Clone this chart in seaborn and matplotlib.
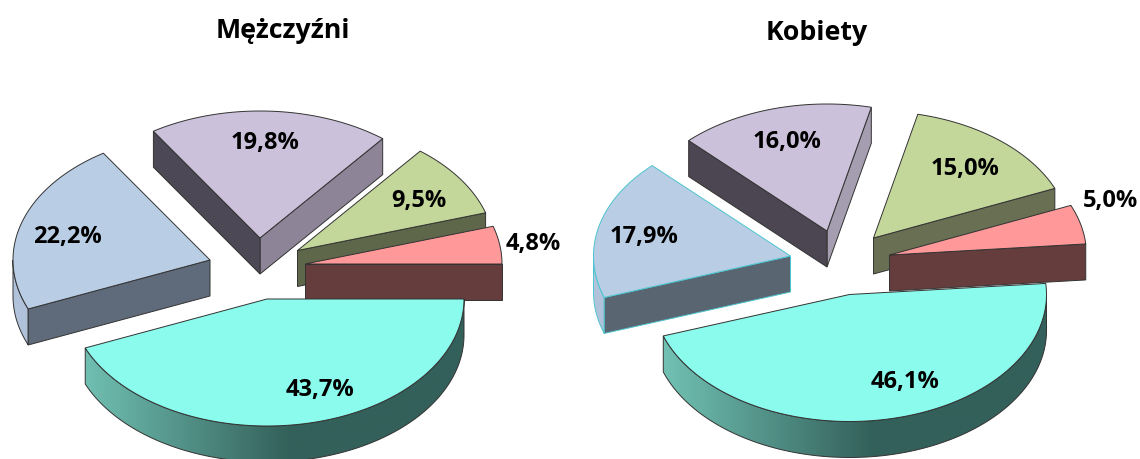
import numpy as np
import matplotlib
matplotlib.use("Agg")
import matplotlib.pyplot as plt
from matplotlib.patches import Polygon
import seaborn as sns

# ---- data ----
slices = ["pink", "green", "purple", "blue", "teal"]
men_values = [4.8, 9.5, 19.8, 22.2, 43.7]
women_values = [5.0, 15.0, 16.0, 17.9, 46.1]
men_title = "Mężczyźni"
women_title = "Kobiety"

# ---- layout (pixels) ----
RX, RY, DEPTH = 197, 127, 36
men_tips = [(305, 264), (297.5, 250.5), (260, 238), (210, 260), (267, 299)]
women_tips = [(889.5, 255), (873.5, 238), (827, 231), (790.5, 256), (849.5, 294.5)]
men_labels = [(533, 244), (419, 201), (265, 143), (67, 237), (320, 390)]
women_labels = [(1110, 201), (965, 169), (787, 142), (644, 237), (905, 382)]
men_start, women_start = 0.0, 5.0
men_title_xy, women_title_xy = (283, 31), (817, 33)

top_colors = ["#FF9999", "#C4D79B", "#CCC1DA", "#B9CDE5", "#8AFBEC"]
EDGE = "#333333"
men_styles = {
    "low": ["#663D3D", "#5E6749", "#8D8497", "#5F6B7A", "#35625A"],
    "high": ["#663D3D", "#5E6749", "#4D4855", "#5F6B7A", "#35625A"],
}
women_styles = {
    "low": ["#663D3D", "#686F52", "#A59DB0", "#5A6572", "#35625A"],
    "high": ["#663D3D", "#686F52", "#4B4651", "#5A6572", "#35625A"],
}
arc_ramps = {
    "blue": ("#B2C4DC", "#8E9FB6"),
    "teal": ("#74C6B8", "#33605A"),
}

sns.set_theme(style="white")
plt.rcParams["font.family"] = ["Open Sans", "DejaVu Sans"]

fig = plt.figure(figsize=(11.4, 4.59), dpi=100)
ax = fig.add_axes([0, 0, 1, 1])
ax.set_xlim(0, 1140)
ax.set_ylim(459, 0)
ax.axis("off")


def rim(tip, deg):
    rad = np.radians(deg)
    return np.column_stack([tip[0] + RX * np.cos(rad), tip[1] - RY * np.sin(rad)])


def radial_face(tip, deg, color, edge, z):
    p = rim(tip, deg)[0]
    pts = [tip, p, (p[0], p[1] + DEPTH), (tip[0], tip[1] + DEPTH)]
    ax.add_patch(Polygon(pts, closed=True, fc=color, ec=edge, lw=0.7, zorder=z))


def arc_face(tip, a, b, ramp, edge, z):
    lo, hi = max(a, 180), min(b, 360)
    if hi <= lo:
        return
    cmap = sns.blend_palette(ramp, as_cmap=True)
    degs = np.linspace(lo, hi, 200)
    pts = rim(tip, degs)
    band = np.vstack([pts, pts[::-1] + (0, DEPTH)])
    x0, x1 = pts[:, 0].min(), pts[:, 0].max()
    left = tip[0] - RX
    xs = np.linspace(x0, x1, 256)
    shade = np.clip((xs - left) / (RX * 1.12), 0, 1)[None, :]
    top, bottom = pts[:, 1].min(), (pts[:, 1] + DEPTH).max()
    img = ax.imshow(shade, cmap=cmap, vmin=0, vmax=1, aspect="auto",
                    extent=(x0, x1, bottom, top), zorder=z, interpolation="bilinear")
    clip = Polygon(band, closed=True, transform=ax.transData)
    img.set_clip_path(clip)
    ax.add_patch(Polygon(band, closed=True, fc="none", ec=edge, lw=0.7, zorder=z))


def draw_pie(values, tips, start, styles, cyan_blue=False):
    sweeps = np.asarray(values) / np.sum(values) * 360
    starts = start + np.concatenate([[0], np.cumsum(sweeps)[:-1]])
    order = [2, 3, 1, 0, 4]
    for z, i in enumerate(order):
        z = 2 + z
        a, b = starts[i], starts[i] + sweeps[i]
        edge = "#4CC5CF" if (cyan_blue and slices[i] == "blue") else EDGE
        if slices[i] in arc_ramps:
            arc_face(tips[i], a, b, arc_ramps[slices[i]], edge, z)
        if np.cos(np.radians(a)) > 0:
            radial_face(tips[i], a, styles["low"][i], edge, z)
        if np.cos(np.radians(b)) < 0:
            radial_face(tips[i], b, styles["high"][i], edge, z)
        outline = rim(tips[i], np.linspace(a, b, 120))
        pts = np.vstack([[tips[i]], outline])
        ax.add_patch(Polygon(pts, closed=True, fc=top_colors[i], ec=edge, lw=0.7, zorder=z))


def draw_labels(values, positions):
    for v, (x, y) in zip(values, positions):
        ax.text(x, y, f"{v:.1f}%".replace(".", ","), ha="center", va="center",
                fontsize=17, fontweight="bold", color="black", zorder=20)


draw_pie(men_values, men_tips, men_start, men_styles)
draw_pie(women_values, women_tips, women_start, women_styles, cyan_blue=True)
draw_labels(men_values, men_labels)
draw_labels(women_values, women_labels)
ax.text(*men_title_xy, men_title, ha="center", va="center", fontsize=19.3,
        fontweight="bold", color="black")
ax.text(*women_title_xy, women_title, ha="center", va="center", fontsize=19.3,
        fontweight="bold", color="black")
ax.set_xlim(0, 1140)
ax.set_ylim(459, 0)

fig.savefig("out.png", dpi=100, facecolor="white")
